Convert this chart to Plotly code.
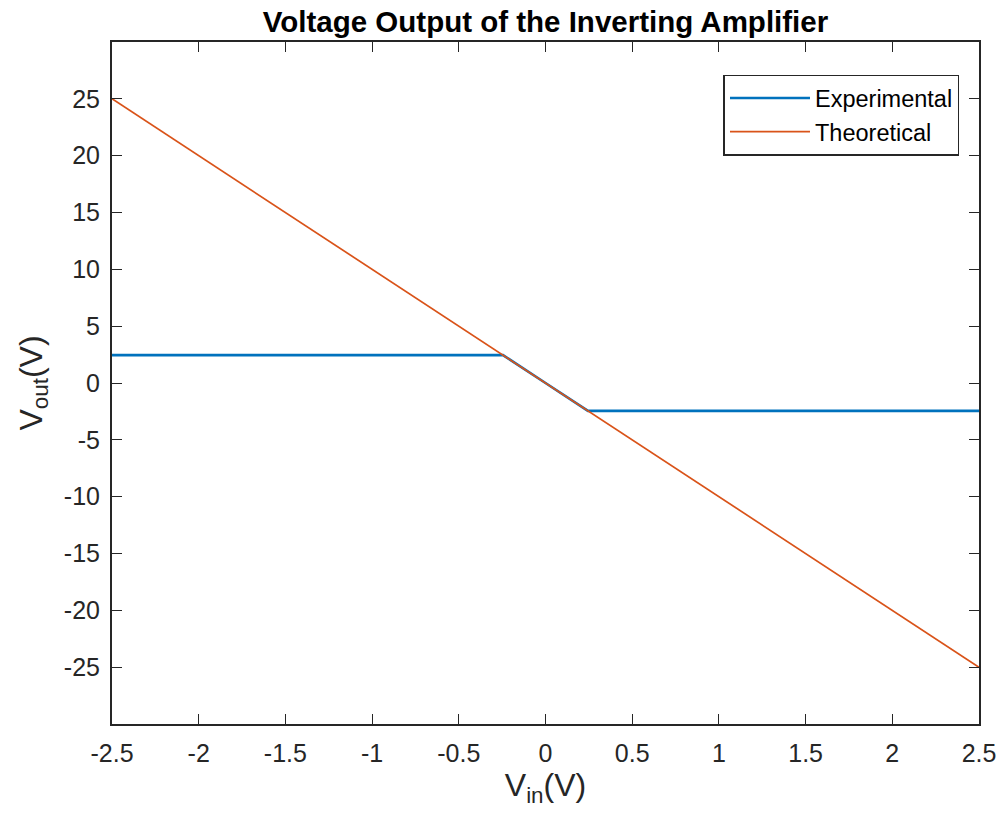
import plotly.graph_objects as go

# Input voltage sweep (V)
vin_theory = [-2.5, 2.5]
vout_theory = [25.0, -25.0]

# Measured output: saturates near +/-2.45 V outside the linear region
vin_exp = [-2.5, -2.0, -1.5, -1.0, -0.5, -0.245, 0.0, 0.245, 0.5, 1.0, 1.5, 2.0, 2.5]
vout_exp = [2.45, 2.45, 2.45, 2.45, 2.45, 2.45, 0.0, -2.45, -2.45, -2.45, -2.45, -2.45, -2.45]

x_ticks = [-2.5, -2, -1.5, -1, -0.5, 0, 0.5, 1, 1.5, 2, 2.5]
x_tick_text = ["-2.5", "-2", "-1.5", "-1", "-0.5", "0", "0.5", "1", "1.5", "2", "2.5"]
y_ticks = [-25, -20, -15, -10, -5, 0, 5, 10, 15, 20, 25]
y_tick_text = ["-25", "-20", "-15", "-10", "-5", "0", "5", "10", "15", "20", "25"]

FONT = "Liberation Sans, Arial, sans-serif"
AXIS_COLOR = "#262626"

fig = go.Figure()
fig.add_trace(go.Scatter(
    x=vin_exp, y=vout_exp, mode="lines", name="Experimental",
    line=dict(color="#0072BD", width=2.6),
))
fig.add_trace(go.Scatter(
    x=vin_theory, y=vout_theory, mode="lines", name="Theoretical",
    line=dict(color="#D95319", width=1.7),
))

axis_common = dict(
    showgrid=False, zeroline=False, automargin=False,
    showline=True, linecolor=AXIS_COLOR, linewidth=2, mirror="ticks",
    ticks="inside", ticklen=10, tickwidth=1.2, tickcolor=AXIS_COLOR,
    tickfont=dict(family=FONT, size=25, color=AXIS_COLOR),
)

fig.update_layout(
    width=1001, height=822,
    margin=dict(l=112, r=22, t=42, b=98),
    paper_bgcolor="white", plot_bgcolor="white",
    title=dict(
        text="<b>Voltage Output of the Inverting Amplifier</b>",
        x=(112 + 979) / 2 / 1001, xanchor="center",
        y=1 - 22 / 822, yanchor="middle",
        font=dict(family=FONT, size=29.5, color="black"),
    ),
    xaxis=dict(
        range=[-2.5, 2.5], tickvals=x_ticks, ticktext=x_tick_text,
        ticklabelstandoff=6,
        title=dict(text="V<sub>in</sub>(V)", font=dict(family=FONT, size=32, color=AXIS_COLOR), standoff=8),
        **axis_common,
    ),
    yaxis=dict(
        range=[-30, 30], tickvals=y_ticks, ticktext=y_tick_text,
        ticklabelstandoff=5,
        title=dict(text="V<sub>out</sub>(V)", font=dict(family=FONT, size=32, color=AXIS_COLOR), standoff=12),
        **axis_common,
    ),
    legend=dict(
        x=0.9775, y=0.952, xanchor="right", yanchor="top",
        bgcolor="white", bordercolor=AXIS_COLOR, borderwidth=1.5,
        font=dict(family=FONT, size=23.5, color="black"),
        itemwidth=80, tracegroupgap=0,
    ),
    showlegend=True,
)

fig.write_html("out.html")
